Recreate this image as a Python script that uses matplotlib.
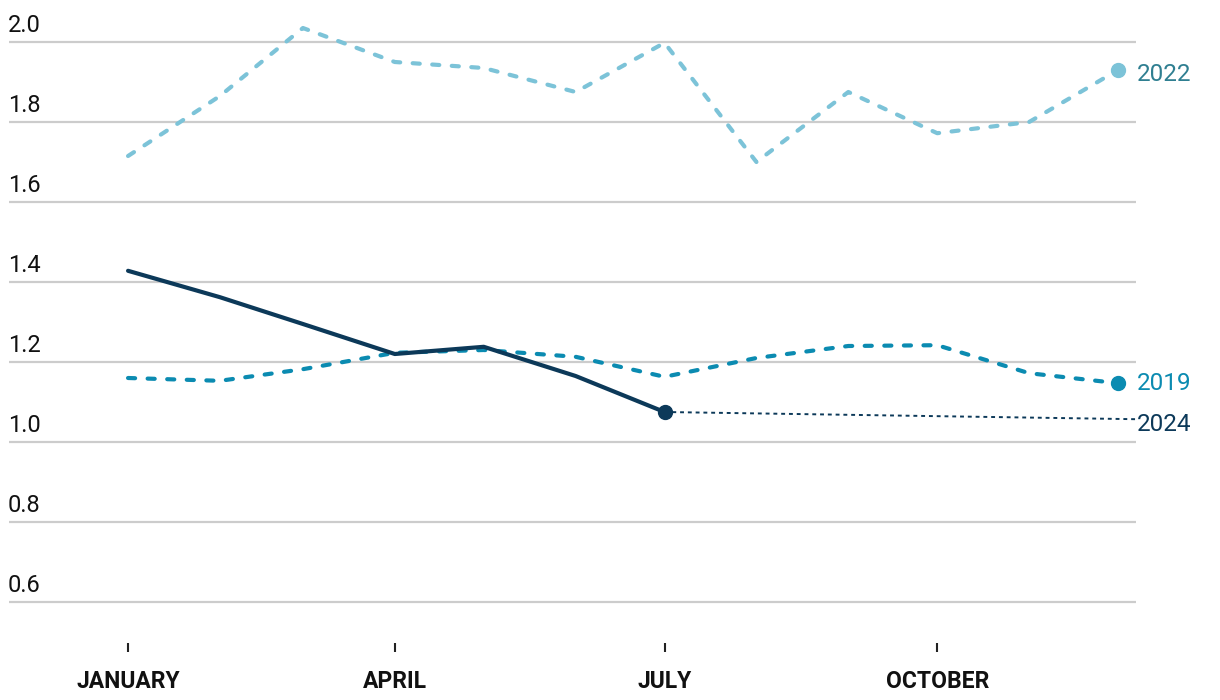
import matplotlib.pyplot as plt
from matplotlib import font_manager

# x position = day of year at the start of each month
month_days = [0, 31, 59, 90, 120, 151, 181, 212, 243, 273, 304, 334]
tick_days = [0, 90, 181, 273]
tick_labels = ["JANUARY", "APRIL", "JULY", "OCTOBER"]

y_ticks = [0.6, 0.8, 1.0, 1.2, 1.4, 1.6, 1.8, 2.0]

v2022 = [1.715, 1.865, 2.035, 1.95, 1.935, 1.875, 1.998, 1.70, 1.875, 1.772, 1.80, 1.93]
v2019 = [1.16, 1.153, 1.182, 1.223, 1.23, 1.213, 1.163, 1.21, 1.24, 1.242, 1.172, 1.147]
v2024 = [1.428, 1.362, 1.295, 1.22, 1.238, 1.165, 1.075]
proj2024_days = [181, 340]
proj2024 = [1.075, 1.057]

c2022, c2022_txt = "#7cc3d8", "#2f7f91"
c2019 = "#0b8bb1"
c2024 = "#0c3959"

names = [f.name for f in font_manager.fontManager.ttflist]
narrow = "Liberation Sans Narrow" if "Liberation Sans Narrow" in names else "Roboto"
fam = [narrow, "DejaVu Sans"]

fig = plt.figure(figsize=(12.2, 7), dpi=100)
ax = fig.add_axes([0, 0, 1, 1])
ax.set_xlim(-43.2, 368.4)
ax.set_ylim(0.355, 2.105)
ax.axis("off")

# grid + y labels
for v in y_ticks:
    ax.plot([-40, 340], [v, v], color="#cccccc", lw=1.6, zorder=1, solid_capstyle="butt")
    ax.text(-40.5, v + 0.025, "%.1f" % v, fontsize=17, family=fam,
            color="#111111", ha="left", va="baseline")

# x ticks + labels
for d, lab in zip(tick_days, tick_labels):
    ax.plot([d, d], [0.4755, 0.4975], color="#222222", lw=1.5, solid_capstyle="butt")
    ax.text(d, 0.385, lab, fontsize=16.5, fontweight="bold", family=fam,
            color="#111111", ha="center", va="baseline")

dash = (1.7, 3.0)
ax.plot(month_days, v2022, color=c2022, lw=3, dashes=dash, dash_capstyle="round", zorder=3)
ax.plot(month_days[-1], v2022[-1], "o", color=c2022, ms=10, zorder=4)
ax.plot(month_days, v2019, color=c2019, lw=3, dashes=dash, dash_capstyle="round", zorder=3)
ax.plot(month_days[-1], v2019[-1], "o", color=c2019, ms=10, zorder=4)
ax.plot(proj2024_days, proj2024, color=c2024, lw=1.4, dashes=(2, 2), zorder=3)
ax.plot(month_days[:len(v2024)], v2024, color=c2024, lw=3, solid_capstyle="round",
        solid_joinstyle="round", zorder=4)
ax.plot(month_days[len(v2024) - 1], v2024[-1], "o", color=c2024, ms=10, zorder=5)

lab_x = 340.4
ax.text(lab_x, v2022[-1] - 0.012, "2022", fontsize=17.5, family=fam,
        color=c2022_txt, ha="left", va="center")
ax.text(lab_x, v2019[-1], "2019", fontsize=17.5, family=fam,
        color=c2019, ha="left", va="center")
ax.text(lab_x, proj2024[-1] - 0.014, "2024", fontsize=17.5, family=fam,
        color=c2024, ha="left", va="center")

fig.savefig("out.png", dpi=100)
